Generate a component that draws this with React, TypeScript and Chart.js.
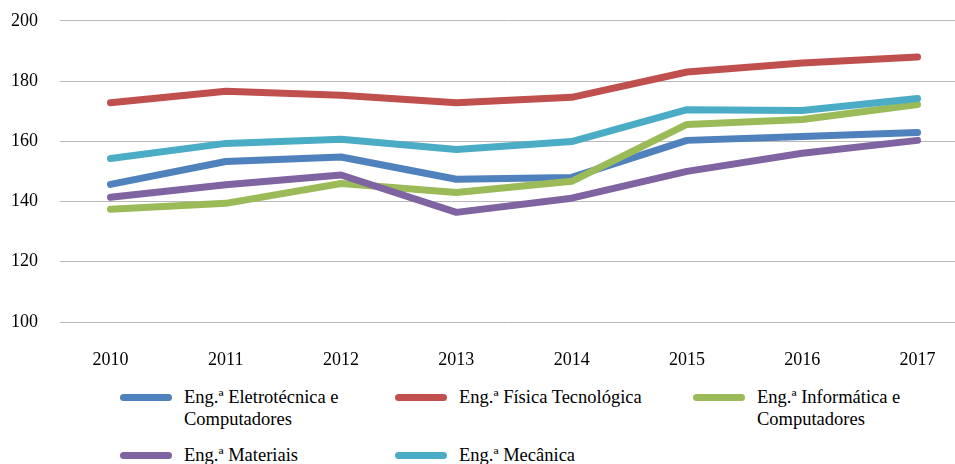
import React, { useEffect, useRef } from "react";
import { Chart, registerables } from "chart.js";

Chart.register(...registerables);

const years = [2010, 2011, 2012, 2013, 2014, 2015, 2016, 2017];
const seriesNames = [
  "Eng.ª Eletrotécnica e Computadores",
  "Eng.ª Física Tecnológica",
  "Eng.ª Informática e Computadores",
  "Eng.ª Materiais",
  "Eng.ª Mecânica",
];
const legendLines = [
  ["Eng.ª Eletrotécnica e", "Computadores"],
  ["Eng.ª Física Tecnológica"],
  ["Eng.ª Informática e", "Computadores"],
  ["Eng.ª Materiais"],
  ["Eng.ª Mecânica"],
];
const eletrotecnica = [145.7, 153.3, 154.8, 147.4, 148.0, 160.3, 161.6, 162.9];
const fisica = [172.8, 176.6, 175.3, 172.8, 174.6, 183.0, 186.0, 188.0];
const informatica = [137.4, 139.4, 146.0, 143.0, 146.7, 165.6, 167.2, 172.2];
const materiais = [141.4, 145.6, 148.8, 136.4, 141.1, 150.0, 156.0, 160.3];
const mecanica = [154.3, 159.3, 160.7, 157.3, 159.9, 170.5, 170.2, 174.2];
const seriesValues = [eletrotecnica, fisica, informatica, materiais, mecanica];
const colors = ["#4F81BD", "#C0504D", "#9BBB59", "#8064A2", "#4BACC6"];
const yTicks = [100, 120, 140, 160, 180, 200];

const FONT = "'Liberation Serif', 'Times New Roman', serif";

export default function App() {
  const ref = useRef<HTMLCanvasElement | null>(null);

  useEffect(() => {
    if (!ref.current) return;
    const chart = new Chart(ref.current, {
      type: "line",
      data: {
        datasets: seriesValues.map((vals, i) => ({
          label: seriesNames[i],
          data: vals.map((v, j) => ({ x: years[j], y: v })),
          borderColor: colors[i],
          backgroundColor: colors[i],
          borderWidth: 7,
          borderCapStyle: "round" as const,
          borderJoinStyle: "round" as const,
          pointRadius: 0,
          tension: 0,
          order: seriesValues.length - 1 - i,
        })),
      },
      options: {
        animation: false,
        responsive: false,
        maintainAspectRatio: false,
        layout: { padding: { top: 8, right: 0, bottom: 0, left: 0 } },
        plugins: { legend: { display: false }, tooltip: { enabled: false } },
        scales: {
          x: {
            type: "linear",
            min: 2009.562,
            max: 2017.325,
            grid: { display: false },
            border: { display: false },
            ticks: {
              stepSize: 1,
              includeBounds: false,
              padding: 19,
              color: "#000",
              font: { family: FONT, size: 18 },
              callback: (v: any) => String(v),
            },
            afterFit: (s: any) => {
              s.height = 58;
            },
          },
          y: {
            min: 100,
            max: 200,
            afterBuildTicks: (s: any) => {
              s.ticks = yTicks.map((v) => ({ value: v }));
            },
            grid: { color: "#b8b8b8", lineWidth: 1, drawTicks: false },
            border: { display: false },
            ticks: {
              padding: 22,
              color: "#000",
              font: { family: FONT, size: 18 },
            },
            afterFit: (s: any) => {
              s.width = 60;
            },
          },
        },
      },
    });
    return () => chart.destroy();
  }, []);

  const colX = [120, 395, 693];
  const rowY = [397, 455];

  return (
    <div
      style={{
        position: "absolute",
        left: 0,
        top: 0,
        width: 955,
        height: 464,
        background: "#fff",
        overflow: "hidden",
      }}
    >
      <canvas
        ref={ref}
        width={955}
        height={392}
        style={{ position: "absolute", left: 0, top: -12, width: 955, height: 392 }}
      />
      {legendLines.map((lines, i) => {
        const col = i % 3;
        const row = Math.floor(i / 3);
        return (
          <div
            key={i}
            style={{
              position: "absolute",
              left: colX[col],
              top: rowY[row] - 11,
              display: "flex",
              alignItems: "flex-start",
              fontFamily: FONT,
              fontSize: 18.5,
              lineHeight: "22px",
              color: "#000",
              whiteSpace: "nowrap",
            }}
          >
            <div
              style={{
                width: 52,
                height: 7,
                borderRadius: 4,
                background: colors[i],
                marginTop: 7.5,
                marginRight: 12,
              }}
            />
            <div>
              {lines.map((t, k) => (
                <div key={k}>{t}</div>
              ))}
            </div>
          </div>
        );
      })}
    </div>
  );
}
